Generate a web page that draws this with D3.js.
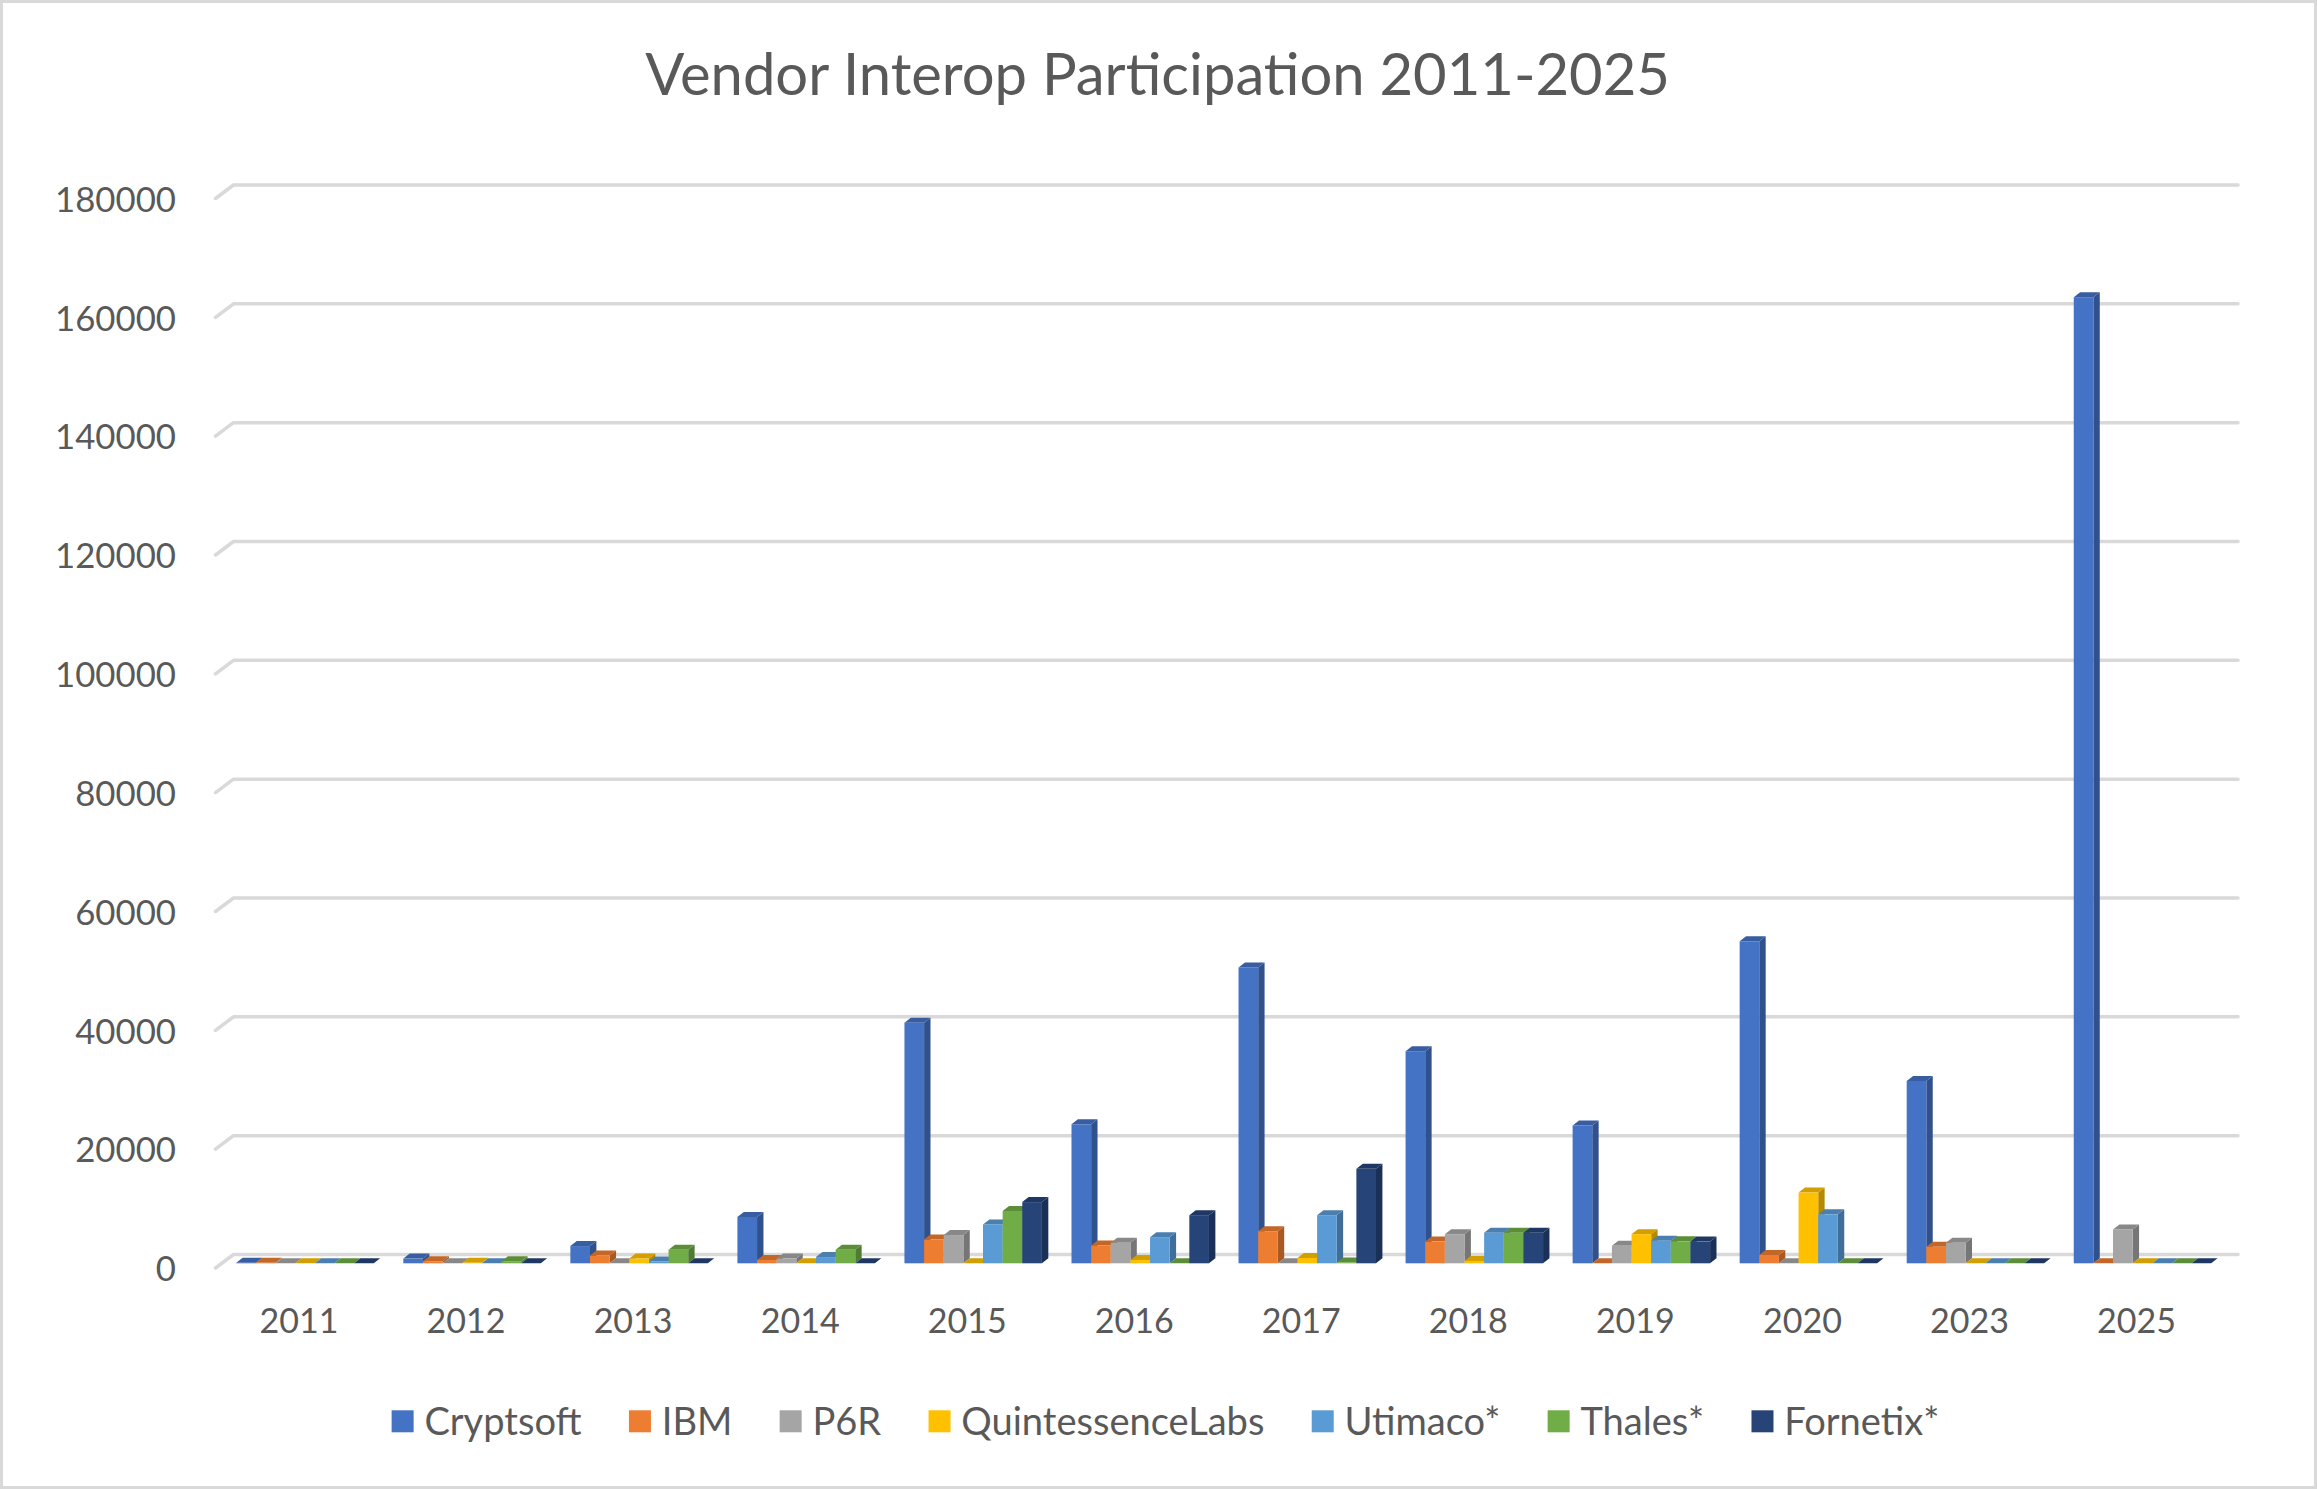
<!DOCTYPE html>
<html>
<head>
<meta charset="utf-8">
<script src="https://cdn.jsdelivr.net/npm/d3@7/dist/d3.min.js"></script>
<style>
  html, body { margin: 0; padding: 0; background: #ffffff; }
  svg { display: block; }
</style>
</head>
<body>
<svg id="chart" width="2317" height="1489"></svg>
<script>
// ---------------- DATA ----------------
const categories = ["2011","2012","2013","2014","2015","2016","2017","2018","2019","2020","2023","2025"];
const seriesNames = ["Cryptsoft","IBM","P6R","QuintessenceLabs","Utimaco*","Thales*","Fornetix*"];
const cryptsoft        = [100, 800, 2900, 7800, 40500, 23400, 49800, 35700, 23200, 54200, 30700, 162600];
const ibm              = [100, 350, 1300, 550, 4000, 3000, 5400, 3650, 0, 1400, 2800, 0];
const p6r              = [0, 0, 0, 800, 4750, 3450, 0, 4900, 2950, 0, 3450, 5700];
const quintessenceLabs = [0, 100, 800, 0, 0, 550, 900, 400, 4900, 11900, 0, 0];
const utimaco          = [0, 0, 300, 1050, 6550, 4400, 8100, 5150, 3800, 8250, 0, 0];
const thales           = [0, 350, 2300, 2300, 8800, 0, 150, 5150, 3700, 0, 0, 0];
const fornetix         = [0, 0, 0, 0, 10300, 8100, 15900, 5150, 3650, 0, 0, 0];
const yTickValues = [0, 20000, 40000, 60000, 80000, 100000, 120000, 140000, 160000, 180000];
const titleText = "Vendor Interop Participation 2011-2025";

const seriesValues = [cryptsoft, ibm, p6r, quintessenceLabs, utimaco, thales, fornetix];
const seriesColors = ["#4472C4","#ED7D31","#A5A5A5","#FFC000","#5B9BD5","#70AD47","#264478"];

// ---------------- LAYOUT ----------------
const W = 2317, H = 1489;
const FONT = "Lato, 'Open Sans', sans-serif";
const TEXT = "#595959";
const GRID = "#D9D9D9";
const wallLeft = 233.5, wallRight = 2238;
const FLOOR = {dx: -18, dy: 13.5};   // back wall -> front edge of floor
const FRONT = {dx: -12, dy: 8.8};    // back wall -> front face of bars
const DEPTH = {dx: 6.4, dy: -5};     // bar front face -> bar back face

const svg = d3.select("#chart");
svg.append("rect").attr("x",0).attr("y",0).attr("width",W).attr("height",H).attr("fill","#fff");

// helper to measure text width
function measure(str, size) {
  const t = svg.append("text").attr("font-family", FONT).attr("font-size", size).text(str);
  const w = t.node().getComputedTextLength();
  t.remove();
  return w;
}
function fitSize(str, target) {
  return 40 * target / measure(str, 40);
}

const yFont = fitSize("180000", 121);
const xFont = fitSize("2011", 79);
const legendFont = 40 * 1034.6 / d3.sum(seriesNames, s => measure(s, 40));
const titleFont = fitSize(titleText, 1025);

// scales
const x0 = d3.scaleBand().domain(categories).range([wallLeft, wallRight])
  .paddingInner(0.177).paddingOuter(0.0885);
const x1 = d3.scaleBand().domain(seriesNames).range([0, x0.bandwidth()]).padding(0);
const y = d3.scaleLinear().domain([0, 180000]).range([1254.5, 185]);
const color = d3.scaleOrdinal().domain(seriesNames).range(seriesColors);

// ---------------- GRIDLINES ----------------
svg.append("g").selectAll("path").data(yTickValues).join("path")
  .attr("d", v => `M${wallLeft + FLOOR.dx},${y(v) + FLOOR.dy}L${wallLeft},${y(v)}L${wallRight},${y(v)}`)
  .attr("fill", "none").attr("stroke", GRID).attr("stroke-width", 3.5)
  .attr("stroke-linecap", "round").attr("stroke-linejoin", "round");

// ---------------- Y AXIS ----------------
const yAxis = svg.append("g").attr("transform", "translate(176,14)")
  .call(d3.axisLeft(y).tickValues(yTickValues).tickSize(0).tickPadding(0).tickFormat(d3.format("d")));
yAxis.select(".domain").remove();
yAxis.selectAll("text").attr("font-family", FONT).attr("font-size", yFont)
  .attr("fill", TEXT).attr("dy", "0.35em");

// ---------------- X AXIS ----------------
const xAxis = svg.append("g").attr("transform", `translate(${FLOOR.dx},0)`)
  .call(d3.axisBottom(x0).tickSize(0).tickPadding(0));
xAxis.select(".domain").remove();
xAxis.selectAll("text").attr("font-family", FONT).attr("font-size", xFont)
  .attr("fill", TEXT).attr("y", 1333.3).attr("dy", 0);

// ---------------- BARS ----------------
const bars = [];
categories.forEach((c, i) => {
  seriesNames.forEach((s, j) => {
    bars.push({cat: c, series: s, value: seriesValues[j][i]});
  });
});

const barG = svg.append("g");
const bw = x1.bandwidth();
bars.forEach(d => {
  const xl = x0(d.cat) + x1(d.series) + FRONT.dx;
  const xr = xl + bw;
  const yb = y(0) + FRONT.dy;
  const yt = y(d.value) + FRONT.dy;
  const base = d3.color(color(d.series));
  const topC = base.darker(0.55).formatHex();
  const sideC = base.darker(0.95).formatHex();
  const g = barG.append("g");
  g.append("path")
    .attr("d", `M${xr},${yb}L${xr + DEPTH.dx},${yb + DEPTH.dy}L${xr + DEPTH.dx},${yt + DEPTH.dy}L${xr},${yt}Z`)
    .attr("fill", sideC);
  g.append("path")
    .attr("d", `M${xl},${yt}L${xr},${yt}L${xr + DEPTH.dx},${yt + DEPTH.dy}L${xl + DEPTH.dx},${yt + DEPTH.dy}Z`)
    .attr("fill", topC);
  g.append("rect").attr("x", xl).attr("y", yt).attr("width", bw).attr("height", Math.max(0, yb - yt))
    .attr("fill", base.formatHex());
});

// ---------------- TITLE ----------------
svg.append("text").attr("x", 1157.5).attr("y", 95).attr("text-anchor", "middle")
  .attr("font-family", FONT).attr("font-size", titleFont).attr("fill", TEXT).text(titleText);

// ---------------- LEGEND ----------------
const sq = 22, sqGap = 32.8, itemGap = 47.3;
const widths = seriesNames.map(s => measure(s, legendFont));
const total = d3.sum(widths) + seriesNames.length * sqGap + (seriesNames.length - 1) * itemGap;
let lx = 1165.5 - total / 2;
const legend = svg.append("g");
seriesNames.forEach((s, k) => {
  legend.append("rect").attr("x", lx).attr("y", 1410.3).attr("width", sq).attr("height", sq)
    .attr("fill", color(s));
  legend.append("text").attr("x", lx + sqGap).attr("y", 1421.5).attr("dy", "0.35em")
    .attr("font-family", FONT).attr("font-size", legendFont).attr("fill", TEXT).text(s);
  lx += sqGap + widths[k] + itemGap;
});

// ---------------- BORDER ----------------
svg.append("rect").attr("x", 1.5).attr("y", 1.5).attr("width", W - 3).attr("height", H - 3)
  .attr("fill", "none").attr("stroke", "#D9D9D9").attr("stroke-width", 3);
</script>
</body>
</html>
